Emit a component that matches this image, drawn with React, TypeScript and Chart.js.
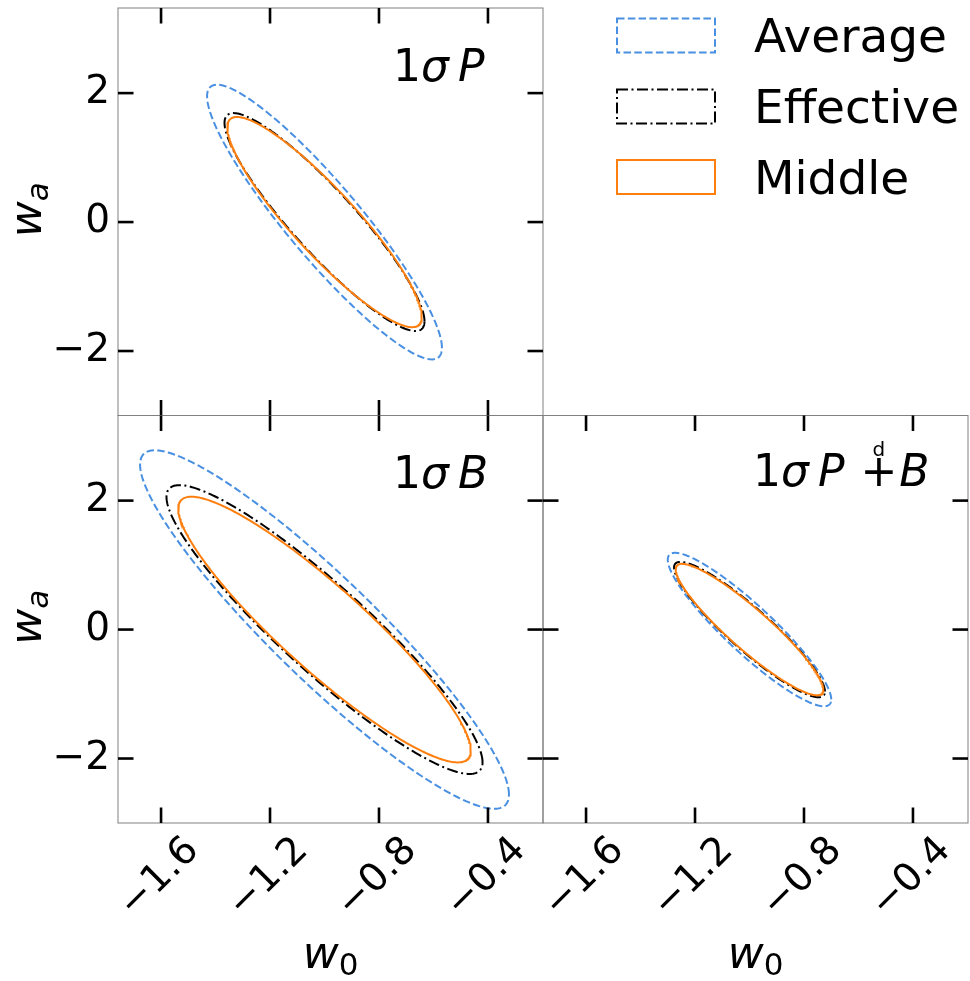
import React, { useEffect, useRef } from 'react';
import { Chart, registerables } from 'chart.js';

Chart.register(...registerables);

// ---------------- data ----------------
const seriesNames = ['Average', 'Effective', 'Middle'];
const seriesColors = ['#4a90e2', '#000000', '#ff7f0e'];
const seriesDashes = [[7.5, 3.3], [11, 3.5, 2, 3.5], []];

// fiducial cosmology (ellipse centre)
const fiducialW0 = -1.0;
const fiducialWa = 0.0;

// 1-sigma marginal errors and correlation (order: Average, Effective, Middle)
// panel "1σ P"
const sigmaW0P = [0.431, 0.367, 0.357];
const sigmaWaP = [2.13, 1.69, 1.63];
const rhoP = [-0.915, -0.91, -0.9];
// panel "1σ B"
const sigmaW0B = [0.677, 0.58, 0.537];
const sigmaWaB = [2.78, 2.24, 2.06];
const rhoB = [-0.92, -0.918, -0.91];
// panel "1σ P +d B"
const sigmaW0PB = [0.30, 0.277, 0.271];
const sigmaWaPB = [1.19, 1.05, 1.02];
const rhoPB = [-0.91, -0.915, -0.915];

const xTickValues = [-1.6, -1.2, -0.8, -0.4];
const xTickLabels = ['−1.6', '−1.2', '−0.8', '−0.4'];
const yTickValues = [-2, 0, 2];
const yTickLabels = ['−2', '0', '2'];
const xLimits = [-1.758, -0.198];
const yLimits = [-3.0, 3.32];
// axis titles: symbol + subscript
const xAxisTitle = { main: 'w', sub: '0', subItalic: false };
const yAxisTitle = { main: 'w', sub: 'a', subItalic: true };

// ---------------- layout / style ----------------
const W = 970;
const H = 981;
const FONT = '"DejaVu Sans", "Liberation Sans", sans-serif';
const TICK_LEN = 15.5;

type Token = { t: string; it?: boolean; gap?: number; over?: string };

const tokensP: Token[] = [{ t: '1' }, { t: 'σ', it: true }, { t: 'P', it: true, gap: 9 }];
const tokensB: Token[] = [{ t: '1' }, { t: 'σ', it: true }, { t: 'B', it: true, gap: 9 }];
const tokensPB: Token[] = [
  { t: '1' },
  { t: 'σ', it: true },
  { t: 'P', it: true, gap: 9 },
  { t: '+', gap: 16, over: 'd' },
  { t: 'B', it: true, gap: 2 },
];

const panels = [
  {
    area: { left: 118, top: 8, right: 543, bottom: 415.5 },
    showX: false, showY: true,
    sx: sigmaW0P, sy: sigmaWaP, rho: rhoP,
    tokens: tokensP, annX: 393, annY: 81, legend: true,
  },
  {
    area: { left: 118, top: 415.5, right: 543, bottom: 823 },
    showX: true, showY: true,
    sx: sigmaW0B, sy: sigmaWaB, rho: rhoB,
    tokens: tokensB, annX: 393, annY: 488, legend: false,
  },
  {
    area: { left: 543, top: 415.5, right: 968, bottom: 823 },
    showX: true, showY: false,
    sx: sigmaW0PB, sy: sigmaWaPB, rho: rhoPB,
    tokens: tokensPB, annX: 753, annY: 486, legend: false,
  },
];

// 1-sigma contour of a 2D Gaussian with the given marginal errors and correlation
function contour(sx: number, sy: number, rho: number, n = 360) {
  const pts: { x: number; y: number }[] = [];
  const s = Math.sqrt(1 - rho * rho);
  for (let i = 0; i <= n; i++) {
    const t = (2 * Math.PI * i) / n;
    pts.push({
      x: fiducialW0 + sx * Math.cos(t),
      y: fiducialWa + sy * (rho * Math.cos(t) + s * Math.sin(t)),
    });
  }
  return pts;
}

function drawTokens(ctx: CanvasRenderingContext2D, tokens: Token[], x: number, y: number) {
  let cx = x;
  ctx.fillStyle = '#000';
  ctx.textBaseline = 'alphabetic';
  ctx.textAlign = 'left';
  tokens.forEach((tk) => {
    cx += tk.gap || 0;
    ctx.font = `${tk.it ? 'italic ' : ''}44px ${FONT}`;
    ctx.fillText(tk.t, cx, y);
    const w = ctx.measureText(tk.t).width;
    if (tk.over) {
      ctx.font = `20px ${FONT}`;
      ctx.textAlign = 'center';
      ctx.fillText(tk.over, cx + w / 2, y - 30);
      ctx.textAlign = 'left';
    }
    cx += w;
  });
}

// draws "main_sub" centred at (0, 0) on the current transform, baseline at y = 0
function drawSubscripted(
  ctx: CanvasRenderingContext2D,
  title: { main: string; sub: string; subItalic: boolean },
) {
  const mainFont = `italic 44px ${FONT}`;
  const subFont = `${title.subItalic ? 'italic ' : ''}31px ${FONT}`;
  ctx.font = mainFont;
  const wMain = ctx.measureText(title.main).width;
  ctx.font = subFont;
  const wSub = ctx.measureText(title.sub).width;
  const start = -(wMain + wSub) / 2;
  ctx.fillStyle = '#000';
  ctx.textAlign = 'left';
  ctx.textBaseline = 'alphabetic';
  ctx.font = mainFont;
  ctx.fillText(title.main, start, 0);
  ctx.font = subFont;
  ctx.fillText(title.sub, start + wMain, 7);
}

const decoPlugin = {
  id: 'deco',
  afterDatasetsDraw(chart: any, _args: any, opts: any) {
    const { ctx, chartArea: a, scales } = chart;
    const xs = scales.x;
    const ys = scales.y;
    ctx.save();
    // frame
    ctx.setLineDash([]);
    ctx.strokeStyle = '#808080';
    ctx.lineWidth = 1;
    ctx.strokeRect(a.left, a.top, a.right - a.left, a.bottom - a.top);
    // inward ticks on all four sides
    ctx.strokeStyle = '#000';
    ctx.lineWidth = 2.6;
    ctx.lineCap = 'butt';
    const seg = (x1: number, y1: number, x2: number, y2: number) => {
      ctx.beginPath();
      ctx.moveTo(x1, y1);
      ctx.lineTo(x2, y2);
      ctx.stroke();
    };
    xs.ticks.forEach((tk: any) => {
      const px = xs.getPixelForValue(tk.value);
      seg(px, a.bottom, px, a.bottom - TICK_LEN);
      seg(px, a.top, px, a.top + TICK_LEN);
    });
    ys.ticks.forEach((tk: any) => {
      const py = ys.getPixelForValue(tk.value);
      seg(a.left, py, a.left + TICK_LEN, py);
      seg(a.right, py, a.right - TICK_LEN, py);
    });
    // axis titles
    if (opts.showX) {
      ctx.save();
      ctx.translate((a.left + a.right) / 2, 968);
      drawSubscripted(ctx, xAxisTitle);
      ctx.restore();
    }
    if (opts.showY) {
      ctx.save();
      ctx.translate(41, (a.top + a.bottom) / 2 - 2);
      ctx.rotate(-Math.PI / 2);
      drawSubscripted(ctx, yAxisTitle);
      ctx.restore();
    }
    // panel annotation
    drawTokens(ctx, opts.tokens, opts.annX, opts.annY);
    // legend
    if (opts.legend) {
      const boxX = 617, boxW = 98, boxH = 34;
      const tops = [18.5, 89.5, 160];
      const baselines = [52, 123, 194];
      seriesNames.forEach((name, i) => {
        ctx.strokeStyle = seriesColors[i];
        ctx.lineWidth = 2;
        ctx.setLineDash(seriesDashes[i]);
        ctx.strokeRect(boxX, tops[i], boxW, boxH);
        ctx.setLineDash([]);
        ctx.fillStyle = '#000';
        ctx.font = `47px ${FONT}`;
        ctx.textAlign = 'left';
        ctx.textBaseline = 'alphabetic';
        ctx.fillText(name, 754, baselines[i]);
      });
    }
    ctx.restore();
  },
};

function Panel({ cfg }: { cfg: (typeof panels)[number] }) {
  const ref = useRef<HTMLCanvasElement | null>(null);
  useEffect(() => {
    if (!ref.current) return;
    const WY = cfg.showY ? 115.5 : 0;
    const HX = cfg.showX ? 151.5 : 0;
    const padding = {
      left: cfg.area.left - WY,
      top: cfg.area.top,
      right: W - cfg.area.right,
      bottom: H - cfg.area.bottom - HX,
    };
    const datasets = seriesNames.map((name, i) => ({
      label: name,
      data: contour(cfg.sx[i], cfg.sy[i], cfg.rho[i]),
      showLine: true,
      borderColor: seriesColors[i],
      borderWidth: 2,
      borderDash: seriesDashes[i],
      pointRadius: 0,
      fill: false,
      tension: 0,
      order: 2 - i,
    }));
    const chart = new Chart(ref.current, {
      type: 'scatter',
      data: { datasets },
      plugins: [decoPlugin],
      options: {
        responsive: false,
        animation: false,
        devicePixelRatio: 1,
        layout: { padding },
        plugins: {
          legend: { display: false },
          tooltip: { enabled: false },
          deco: {
            tokens: cfg.tokens, annX: cfg.annX, annY: cfg.annY, legend: cfg.legend,
            showX: cfg.showX, showY: cfg.showY,
          },
        } as any,
        scales: {
          x: {
            type: 'linear',
            position: 'bottom',
            min: xLimits[0],
            max: xLimits[1],
            grid: { display: false, drawTicks: false },
            border: { display: false },
            afterBuildTicks: (s: any) => {
              s.ticks = xTickValues.map((v) => ({ value: v }));
            },
            afterFit: (s: any) => {
              s.height = HX;
              s.paddingLeft = 0;
              s.paddingRight = 0;
              s.paddingTop = 0;
              s.paddingBottom = 0;
            },
            ticks: {
              display: cfg.showX,
              autoSkip: false,
              minRotation: 45,
              maxRotation: 45,
              labelOffset: 32,
              padding: 5,
              color: '#000',
              font: { family: FONT, size: 39 },
              callback: (v: any) => xTickLabels[xTickValues.indexOf(Number(v))] ?? '',
            },
            title: { display: false },
          },
          y: {
            type: 'linear',
            position: 'left',
            min: yLimits[0],
            max: yLimits[1],
            grid: { display: false, drawTicks: false },
            border: { display: false },
            afterBuildTicks: (s: any) => {
              s.ticks = yTickValues.map((v) => ({ value: v }));
            },
            afterFit: (s: any) => {
              s.width = WY;
              s.paddingLeft = 0;
              s.paddingRight = 0;
              s.paddingTop = 0;
              s.paddingBottom = 0;
            },
            ticks: {
              display: cfg.showY,
              autoSkip: false,
              padding: 8,
              color: '#000',
              font: { family: FONT, size: 39 },
              callback: (v: any) => yTickLabels[yTickValues.indexOf(Number(v))] ?? '',
            },
            title: { display: false },
          },
        },
      } as any,
    });
    return () => chart.destroy();
  }, [cfg]);
  return (
    <canvas
      ref={ref}
      width={W}
      height={H}
      style={{ position: 'absolute', left: 0, top: 0, width: W, height: H }}
    />
  );
}

export default function App() {
  return (
    <div
      style={{
        position: 'fixed',
        left: 0,
        top: 0,
        width: W,
        height: H,
        background: '#fff',
        overflow: 'hidden',
      }}
    >
      {panels.map((p, i) => (
        <Panel key={i} cfg={p} />
      ))}
    </div>
  );
}
